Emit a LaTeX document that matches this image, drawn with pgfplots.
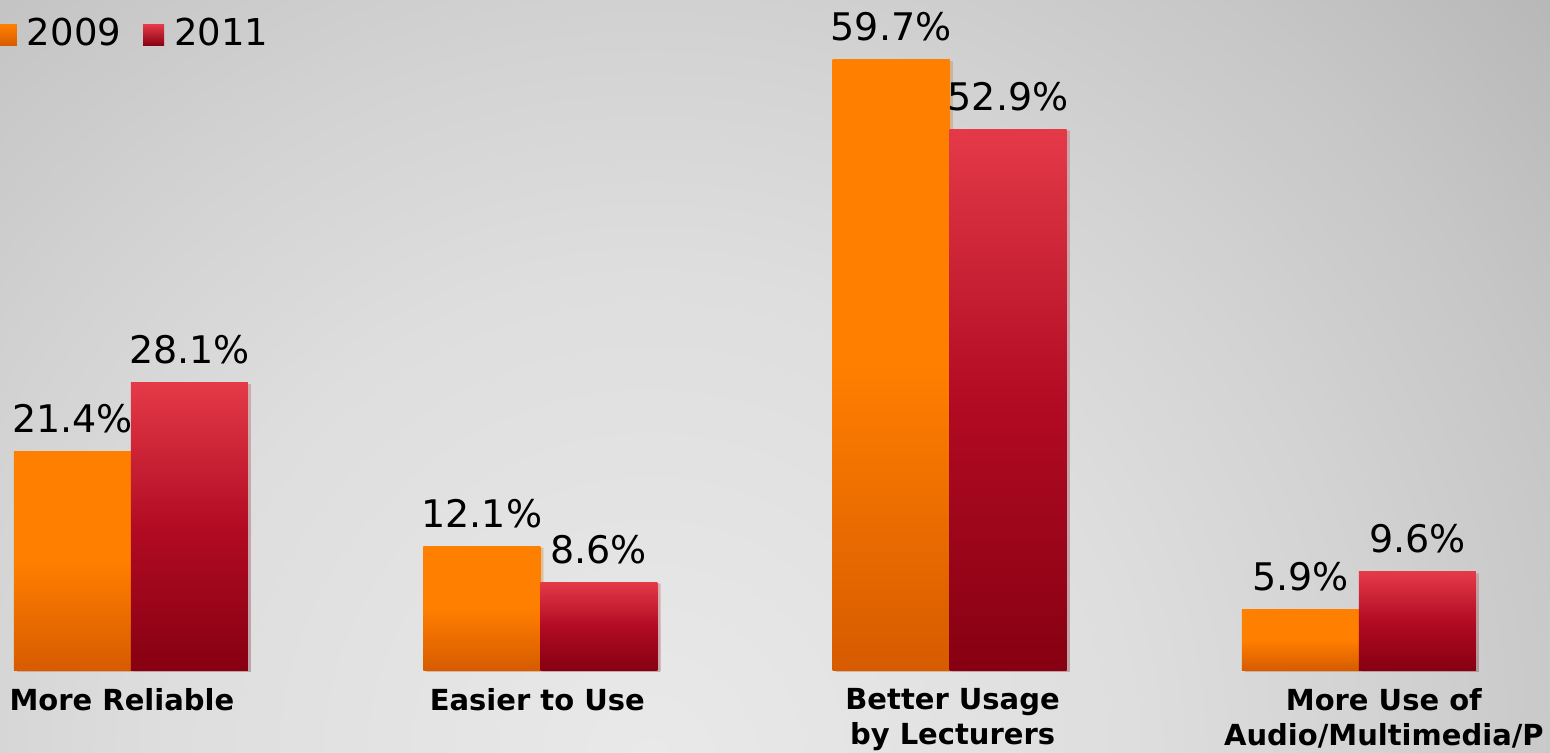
\documentclass[border=0pt]{standalone}
\usepackage{pgfplots}
\pgfplotsset{compat=1.18}
\usepackage{fontspec}
\setmainfont{DejaVu Sans}
\usetikzlibrary{shadows}

\definecolor{bgc0}{HTML}{E9E9E9}
\definecolor{bgc1}{HTML}{DEDEDE}
\definecolor{bgc2}{HTML}{D3D3D3}
\definecolor{bgc3}{HTML}{C6C6C6}
\definecolor{bgc4}{HTML}{B6B6B6}
\definecolor{orgtop}{HTML}{FF7F00}
\definecolor{orgbot}{HTML}{D75B00}
\definecolor{redtop}{HTML}{E43A48}
\definecolor{redmid}{HTML}{B20B23}
\definecolor{redbot}{HTML}{870012}

% path half-size (600pt) corresponds to 25bp of the shading
\pgfdeclareradialshading{bgshade}{\pgfpoint{0bp}{0bp}}{color(0bp)=(bgc0); color(10bp)=(bgc1);
  color(15bp)=(bgc2); color(20bp)=(bgc3); color(25bp)=(bgc4); color(50bp)=(bgc4)}

\pgfplotsset{
  orgbar/.style={ybar, bar width=58.5pt, bar shift=-29.25pt, draw=none, forget plot,
    top color=orgtop, bottom color=orgbot, middle color=orgtop,
    drop shadow={shadow xshift=1.5pt, shadow yshift=-0.8pt, opacity=0.2},
    every node near coord/.append style={xshift=-29.25pt}},
  redbar/.style={ybar, bar width=58.5pt, bar shift=29.25pt, draw=none, forget plot,
    top color=redtop, bottom color=redbot, middle color=redmid,
    drop shadow={shadow xshift=1.5pt, shadow yshift=-0.8pt, opacity=0.2},
    every node near coord/.append style={xshift=29.25pt}},
}

\begin{document}
\begin{tikzpicture}
\useasboundingbox (0,-41pt) rectangle (775pt,335pt);
\clip (0,-41pt) rectangle (775pt,335pt);
\shade[shading=bgshade] (-275pt,-645pt) rectangle (925pt,555pt);
\begin{axis}[
    width=775pt, height=335pt, scale only axis,
    xmin=-0.320, xmax=3.467, ymin=0, ymax=65.56,
    hide axis, clip=false,
    nodes near coords={\pgfmathprintnumber[fixed,fixed zerofill,precision=1,assume math mode=true]{\pgfplotspointmeta}\%},
    every node near coord/.append style={font=\fontsize{19}{22}\selectfont, text=black, inner sep=0pt, yshift=9pt},
    legend columns=2,
    legend style={draw=none, fill=none, at={(rel axis cs:0,1)}, anchor=north west,
        xshift=-2pt, yshift=-9.25pt, inner sep=0pt, outer sep=0pt,
        font=\fontsize{18.5}{22}\selectfont, nodes={inner sep=0pt},
        /tikz/every odd column/.append style={column sep=5pt},
        /tikz/every even column/.append style={column sep=11pt}},
]
% 2009 (orange) and 2011 (red), one path per bar so each bar gets its own gradient
\addplot[orgbar] coordinates {(0,21.4)};
\addplot[redbar] coordinates {(0,28.1)};
\addplot[orgbar] coordinates {(1,12.1)};
\addplot[redbar] coordinates {(1,8.6)};
\addplot[orgbar] coordinates {(2,59.7)};
\addplot[redbar] coordinates {(2,52.9)};
\addplot[orgbar] coordinates {(3,5.9)};
\addplot[redbar] coordinates {(3,9.6)};

\addlegendimage{legend image code/.code={\shade[draw=none, top color=orgtop, bottom color=orgbot] (0pt,-6pt) rectangle (10.5pt,4.5pt);}}
\addlegendentry{2009}
\addlegendimage{legend image code/.code={\shade[draw=none, top color=redtop, bottom color=redbot] (0pt,-6pt) rectangle (10.5pt,4.5pt);}}
\addlegendentry{2011}

\tikzset{catlab/.style={anchor=north, inner sep=0pt, align=center,
    font=\bfseries\fontsize{14.5}{17.5}\selectfont}}
\node[catlab, xshift=-4.5pt, yshift=-9pt] at (axis cs:0,0) {More Reliable};
\node[catlab, xshift=-1.5pt, yshift=-9pt] at (axis cs:1,0) {Easier to Use};
\node[catlab, xshift=1.5pt, yshift=-9pt] at (axis cs:2,0) {Better Usage\\by Lecturers};
\node[catlab, xshift=12.5pt, yshift=-9pt] at (axis cs:3,0) {More Use of\\Audio/Multimedia/P};
\end{axis}
\end{tikzpicture}
\end{document}
